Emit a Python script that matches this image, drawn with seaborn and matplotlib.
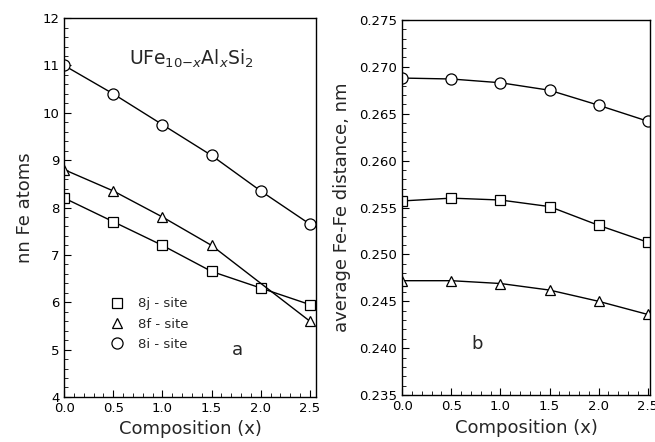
import numpy as np
import pandas as pd
import seaborn as sns
import matplotlib
matplotlib.use("Agg")
import matplotlib.pyplot as plt
from matplotlib.ticker import MultipleLocator, FormatStrFormatter

composition = [0.0, 0.5, 1.0, 1.5, 2.0, 2.5]
composition_8f_a = [0.0, 0.5, 1.0, 1.5, 2.5]
sites = ["8j - site", "8f - site", "8i - site"]
markers = ["s", "^", "o"]

# panel a: nearest-neighbour Fe atoms
nn_8j = [8.2, 7.7, 7.2, 6.65, 6.3, 5.95]
nn_8f = [8.8, 8.35, 7.8, 7.2, 5.6]
nn_8i = [11.0, 10.4, 9.75, 9.1, 8.35, 7.65]

# panel b: average Fe-Fe distance (nm)
d_8j = [0.2557, 0.2560, 0.2558, 0.2551, 0.2531, 0.2513]
d_8f = [0.2472, 0.2472, 0.2469, 0.2462, 0.2450, 0.2436]
d_8i = [0.2688, 0.2687, 0.2683, 0.2675, 0.2659, 0.2642]

sns.set_theme(style="ticks")
plt.rcParams['font.family'] = ['DejaVu Sans']

fig = plt.figure(figsize=(6.55, 4.42), dpi=100)
axa = fig.add_axes([0.098, 0.102, 0.384, 0.857])
axb = fig.add_axes([0.614, 0.106, 0.378, 0.849])

msizes = {"s": 6.5, "^": 7, "o": 8}

def draw(ax, xs, series):
    for site, mk, x, vals in zip(sites, markers, xs, series):
        sns.lineplot(x=x, y=vals, ax=ax, color="black", lw=1.0,
                     marker=mk, markersize=msizes[mk], markerfacecolor="white",
                     markeredgecolor="black", markeredgewidth=0.9, label=site,
                     legend=False)

draw(axa, [composition, composition_8f_a, composition], [nn_8j, nn_8f, nn_8i])
draw(axb, [composition] * 3, [d_8j, d_8f, d_8i])

for ax in (axa, axb):
    for s in ax.spines.values():
        s.set_linewidth(1.0)
        s.set_color("black")
    ax.tick_params(which="both", direction="in", colors="black", labelsize=9.5,
                   top=False, right=False)
    ax.tick_params(which="major", length=5, width=0.8)
    ax.tick_params(which="minor", length=3, width=0.6)
    ax.xaxis.set_major_locator(MultipleLocator(0.5))
    ax.xaxis.set_minor_locator(MultipleLocator(0.1))
    ax.xaxis.set_major_formatter(FormatStrFormatter("%.1f"))
    ax.set_xlabel("Composition (x)", fontsize=13, labelpad=4)

axa.set_xlim(0, 2.56)
axa.set_ylim(4, 12)
axa.yaxis.set_major_locator(MultipleLocator(1))
axa.yaxis.set_minor_locator(MultipleLocator(0.2))
axa.set_ylabel("nn Fe atoms", fontsize=13, labelpad=6)

axb.set_xlim(0, 2.52)
axb.set_ylim(0.235, 0.275)
axb.yaxis.set_major_locator(MultipleLocator(0.005))
axb.yaxis.set_minor_locator(MultipleLocator(0.001))
axb.yaxis.set_major_formatter(FormatStrFormatter("%.3f"))
axb.set_ylabel("average Fe-Fe distance, nm", fontsize=13, labelpad=6)

axa.text(1.3, 11.15, r"UFe$_{10\mathrm{-}x}$Al$_x$Si$_2$", fontsize=13.5,
         ha="center", va="center")
axa.text(1.76, 5.0, "a", fontsize=13, ha="center", va="center")
axb.text(0.76, 0.2405, "b", fontsize=13, ha="center", va="center")

leg = axa.legend(loc="lower left", bbox_to_anchor=(0.13, 0.09), frameon=False,
                 fontsize=9.5, handlelength=1.2, handletextpad=1.0,
                 labelspacing=0.55)
for h in leg.legend_handles:
    h.set_linestyle("None")

fig.savefig("out.png", dpi=100)
